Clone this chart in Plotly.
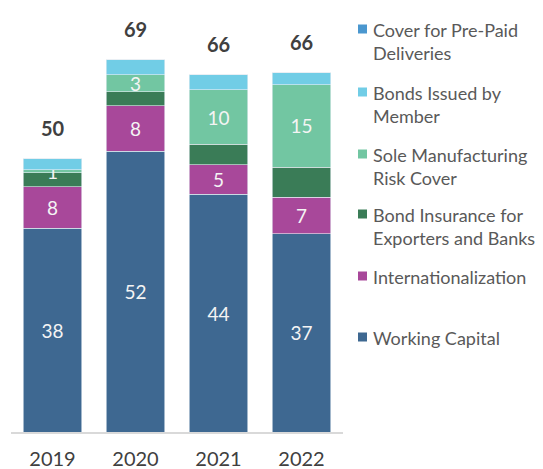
import plotly.graph_objects as go

years = ["2019", "2020", "2021", "2022"]
working_capital = [37.6, 51.8, 43.9, 36.6]
internationalization = [7.6, 8.4, 5.4, 6.7]
bond_insurance = [2.6, 2.6, 3.8, 5.5]
sole_manufacturing = [0.6, 3.1, 10.0, 15.3]
bonds_issued = [2.0, 2.8, 2.8, 2.2]
prepaid_deliveries = [0, 0, 0, 0]

series = [
    ("Working Capital", working_capital, "#3e6891", True),
    ("Internationalization", internationalization, "#a8489a", True),
    ("Bond Insurance for<br>Exporters and Banks", bond_insurance, "#3a7c57", False),
    ("Sole Manufacturing<br>Risk Cover", sole_manufacturing, "#72c6a2", True),
    ("Bonds Issued by<br>Member", bonds_issued, "#71cde6", False),
    ("Cover for Pre-Paid<br>Deliveries", prepaid_deliveries, "#4a97cf", False),
]

FONT = "Lato"
W, H = 543, 469
ML, MR, MT, MB = 11, 200, 20, 37
PW, PH = W - ML - MR, H - MT - MB


def px_x(px):
    return (px - ML) / PW


def px_y(py):
    return (H - MB - py) / PH


fig = go.Figure()
for i, (name, vals, color, labelled) in enumerate(series):
    fig.add_trace(go.Bar(
        x=years, y=vals, name=name.replace("<br>", " "), showlegend=False,
        marker=dict(color=color, line=dict(width=0.6, color="#e8eef4")),
        text=[f"{v:.0f}" for v in vals] if labelled else None,
        textposition="inside", insidetextanchor="middle", textangle=0,
        constraintext="none",
        textfont=dict(color="#f4f4f4", size=19, family=FONT),
    ))

totals = [sum(v) for v in zip(working_capital, internationalization, bond_insurance,
                               sole_manufacturing, bonds_issued, prepaid_deliveries)]
# category axis: annotations use the category's serial index
for idx, tot in enumerate(totals):
    fig.add_annotation(x=idx, y=tot, xref="x", yref="y", text=f"<b>{tot:.0f}</b>",
                       showarrow=False, yanchor="bottom", yshift=17,
                       font=dict(size=20, color="#404040", family=FONT))

# legend (top item first), drawn as squares + text
legend_rows = [30, 93, 155, 215, 277, 338]
for (name, vals, color, labelled), c in zip(reversed(series), legend_rows):
    fig.add_shape(type="rect", xref="paper", yref="paper",
                  x0=px_x(358), x1=px_x(367), y0=px_y(c + 3.5), y1=px_y(c - 5.5),
                  fillcolor=color, line=dict(width=0))
    fig.add_annotation(xref="paper", yref="paper", x=px_x(371), y=px_y(c - 12.7),
                       xanchor="left", yanchor="top", align="left", showarrow=False,
                       text=name, font=dict(size=18, color="#595959", family=FONT))

fig.update_layout(
    width=W, height=H,
    barmode="stack", bargap=0.29,
    plot_bgcolor="white", paper_bgcolor="white",
    margin=dict(l=ML, r=MR, t=MT, b=MB),
    font=dict(family=FONT, color="#595959"),
    showlegend=False,
    xaxis=dict(type="category", showline=True, linecolor="#d9d9d9", linewidth=1.5,
               ticks="outside", ticklen=8, tickcolor="rgba(0,0,0,0)", automargin=False,
               tickfont=dict(size=20, color="#404040", family=FONT)),
    yaxis=dict(visible=False, range=[0, 76], automargin=False),
)

fig.write_html("out.html", config={"displayModeBar": False},
               post_script="document.body.style.margin='0';")
